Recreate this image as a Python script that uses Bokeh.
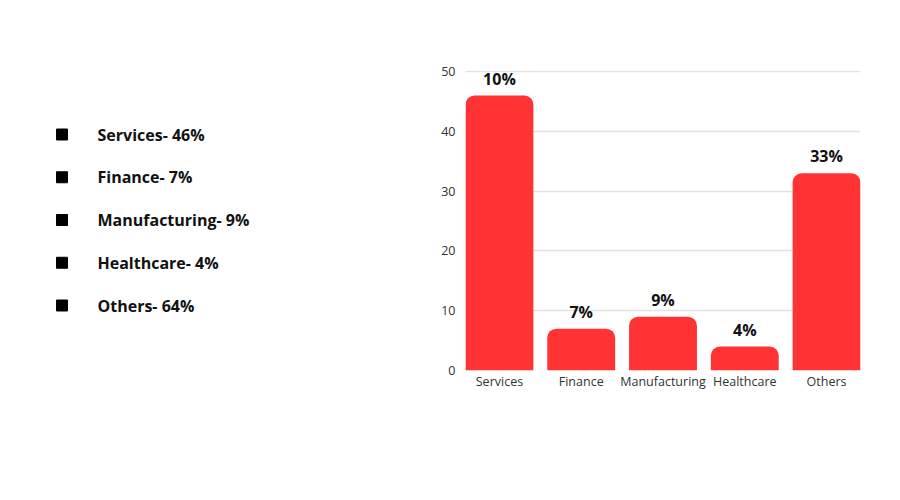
from bokeh.plotting import figure
from bokeh.layouts import row
from bokeh.models import Range1d, FixedTicker, ColumnDataSource
from bokeh.core.properties import value
from bokeh.embed import file_html
from bokeh.resources import INLINE

# ---- data ----
categories = ["Services", "Finance", "Manufacturing", "Healthcare", "Others"]
values = [46, 7, 9, 4, 33]
bar_labels = ["10%", "7%", "9%", "4%", "33%"]
list_items = ["Services- 46%", "Finance- 7%", "Manufacturing- 9%", "Healthcare- 4%", "Others- 64%"]
y_ticks = [0, 10, 20, 30, 40, 50]

FONT = "Open Sans"
RED = "#ff3333"

# ---- left list figure (its frame is aligned with the chart frame by the row) ----
left = figure(width=408, height=500, output_backend="svg", toolbar_location=None,
              x_range=Range1d(0, 408), y_range=Range1d(5.52, -1.497),
              min_border_left=0, min_border_right=0, min_border_top=70, min_border_bottom=130,
              outline_line_color=None)
left.axis.visible = False
left.grid.visible = False
idx = list(range(len(list_items)))
lsrc = ColumnDataSource(dict(y=idx, txt=list_items,
                             xs=[61.5] * len(idx), xt=[97] * len(idx)))
left.scatter(x="xs", y="y", source=lsrc, marker="square", size=11,
             fill_color="black", line_color="black")
left.text(x="xt", y="y", text="txt", source=lsrc, text_font=value(FONT),
          text_font_style="bold", text_font_size="16px", text_color="#111111",
          text_baseline="middle", text_align="left")

# ---- right bar chart ----
xs = list(range(len(categories)))
p = figure(width=492, height=500, output_backend="svg", toolbar_location=None,
           x_range=Range1d(-0.415, len(categories) - 1 + 0.415),
           y_range=Range1d(0, 50.2),
           min_border_left=57, min_border_right=40, min_border_top=69, min_border_bottom=130,
           outline_line_color=None)
src = ColumnDataSource(dict(x=xs, top=values, lab=bar_labels))
p.vbar(x="x", top="top", width=0.83, source=src, fill_color=RED, line_color=None,
       border_radius=(9, 9, 0, 0))
p.text(x="x", y="top", text="lab", source=src, y_offset=-17, text_font=value(FONT),
       text_font_style="bold", text_font_size="16px", text_color="#111111",
       text_align="center", text_baseline="middle")

p.xgrid.visible = False
p.ygrid.ticker = FixedTicker(ticks=y_ticks)
p.ygrid.grid_line_color = "#e3e3e3"
p.ygrid.grid_line_width = 1.5

p.yaxis.ticker = FixedTicker(ticks=y_ticks)
p.xaxis.ticker = FixedTicker(ticks=xs)
p.xaxis.major_label_overrides = {i: c for i, c in enumerate(categories)}
for ax in (p.xaxis, p.yaxis):
    ax.axis_line_color = None
    ax.major_tick_line_color = None
    ax.minor_tick_line_color = None
    ax.major_tick_out = 0
    ax.major_tick_in = 0
    ax.major_label_text_font = FONT
    ax.major_label_text_font_size = "12.5px"
    ax.major_label_text_color = "#333333"
p.yaxis.major_label_standoff = 10
p.xaxis.major_label_standoff = 2

layout = row(left, p)
open("out.html", "w").write(file_html(layout, INLINE))
